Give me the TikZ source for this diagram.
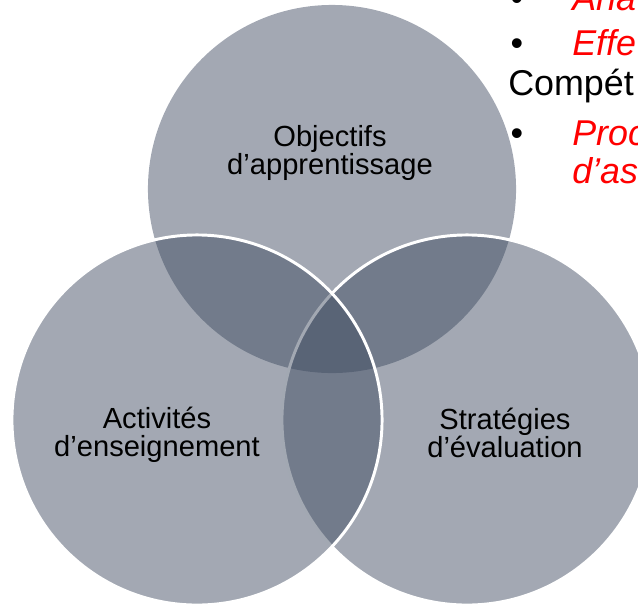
\documentclass[tikz,border=0pt]{standalone}
\usepackage{fontspec}
\setmainfont{Liberation Sans}
\usepackage{xcolor}
\definecolor{venngray}{RGB}{62,74,96}
\definecolor{notered}{RGB}{255,0,0}

\begin{document}
\begin{tikzpicture}[x=0.025cm, y=-0.025cm,
    vennset/.style={fill=venngray, fill opacity=0.48, draw=white, line width=2.1pt},
    setlabel/.style={align=center, inner sep=0pt, font=\fontsize{20.7}{19.8}\selectfont},
    noteline/.style={anchor=base west, inner sep=0pt, font=\fontsize{25.5}{30}\selectfont},
    bulletmark/.style={anchor=base, inner sep=0pt, font=\fontsize{25.5}{30}\selectfont}]
    \clip (0,0) rectangle (638,607);

    % Venn circles
    \coordinate (ctop) at (332,189);
    \coordinate (cright) at (467,420);
    \coordinate (cleft) at (197,420);
    \fill[venngray, fill opacity=0.48] (ctop) circle (4.6cm);
    \draw[vennset] (cright) circle (4.625cm);
    \draw[vennset] (cleft) circle (4.625cm);

    \node[setlabel] (objectifs) at (330,153) {Objectifs\\d’apprentissage};
    \node[setlabel] (activites) at (157,435) {Activités\\d’enseignement};
    \node[setlabel] (strategies) at (505,433) {Stratégies\\d’évaluation};

    % notes at the top right
    \node[bulletmark] (b1) at (517,10) {•};
    \node[noteline, text=notered, font=\fontsize{25.5}{30}\selectfont\itshape] (ana) at (572,10) {Ana};
    \node[bulletmark] (b2) at (517,55) {•};
    \node[noteline, text=notered, font=\fontsize{25.5}{30}\selectfont\itshape] (effe) at (572,55) {Effe};
    \node[noteline] (compet) at (508,95) {Compét};
    \node[bulletmark] (b3) at (517,145) {•};
    \node[noteline, text=notered, font=\fontsize{25.5}{30}\selectfont\itshape] (proc) at (572,145) {Proc};
    \node[noteline, text=notered, font=\fontsize{25.5}{30}\selectfont\itshape] (das) at (572,183) {d’as};
\end{tikzpicture}
\end{document}
